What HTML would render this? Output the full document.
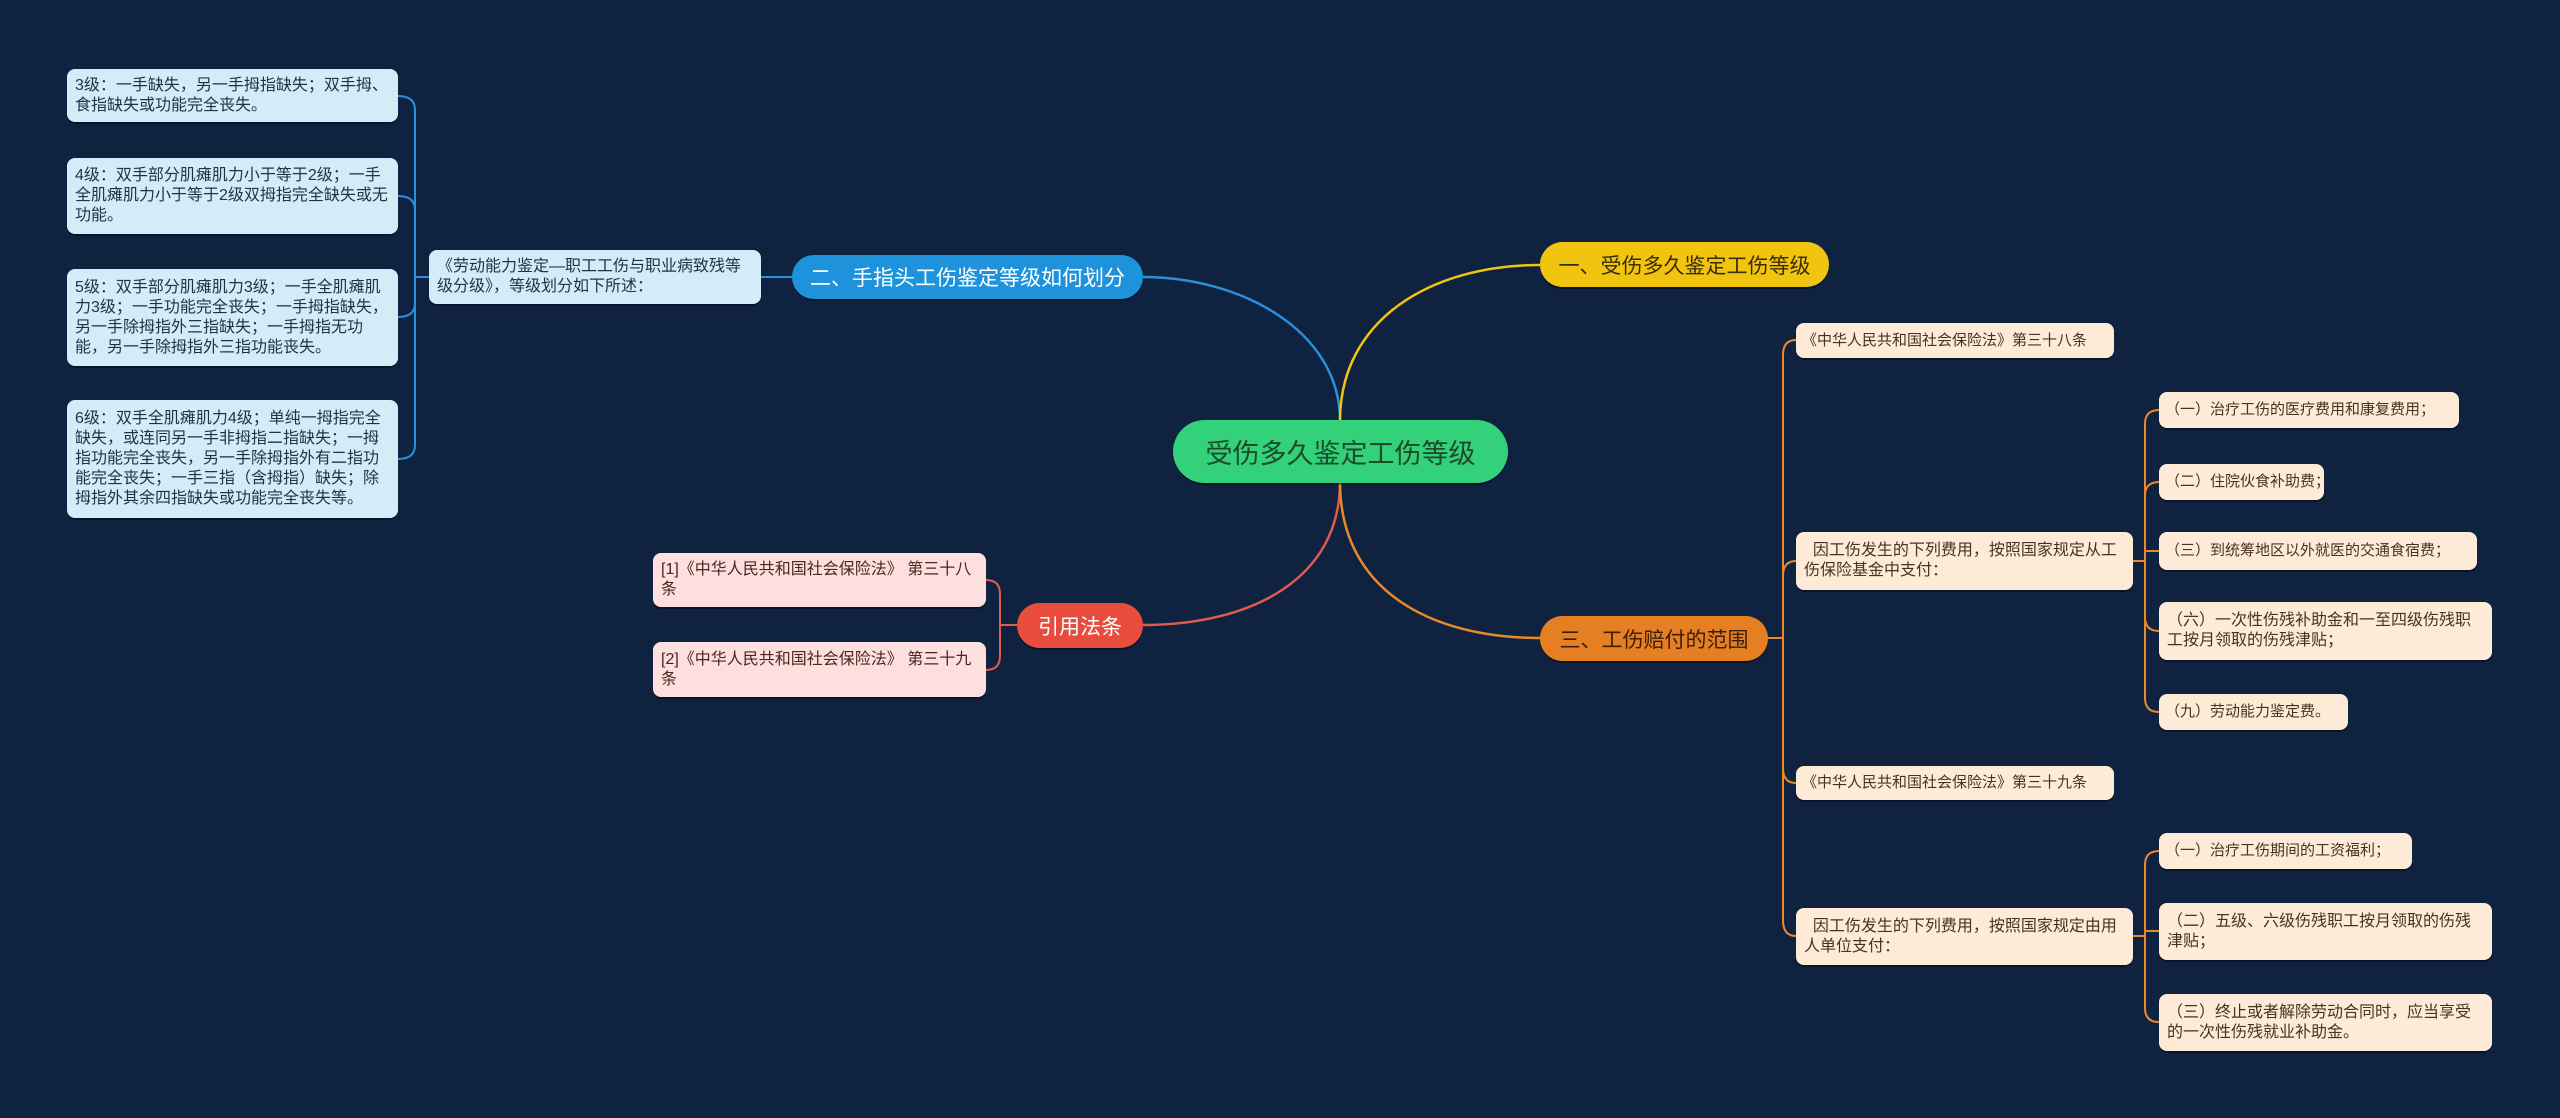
<!DOCTYPE html>
<html><head><meta charset="utf-8"><style>
html,body{margin:0;padding:0}
body{width:2560px;height:1118px;background:#0f2341;position:relative;overflow:hidden;font-family:"Liberation Sans","Noto Sans CJK SC",sans-serif}
.n{position:absolute;box-sizing:border-box;border-radius:8px;font-size:16px;line-height:20px;padding:4px 8px;display:flex;align-items:center;box-shadow:0 2px 0 rgba(0,0,0,0.35)}
.s{white-space:nowrap;font-size:15px;padding:4px 6px}
.b{background:#d4ecf8;color:#1f3344}
.p{background:#fde0dd;color:#4a2622}
.c{background:#fdebd7;color:#4a3222}
.m{position:absolute;box-sizing:border-box;border-radius:24px;display:flex;align-items:center;justify-content:center;font-size:21px;white-space:nowrap;box-shadow:0 2px 0 rgba(0,0,0,0.35)}
svg{position:absolute;left:0;top:0}
</style></head><body>
<svg width="2560" height="1118" fill="none" stroke-width="2.5">
<path d="M1340 421 C1340 330 1240 277 1143 277" stroke="#2a8fdc"/>
<path d="M1340 421 C1340 320 1430 265 1540 265" stroke="#f1c40f"/>
<path d="M1340 482 C1340 580 1250 625 1143 625" stroke="#e05a50"/>
<path d="M1340 482 C1340 590 1430 638 1540 638" stroke="#e8892a"/>
<g stroke="#2a8fdc" stroke-width="2">
<path d="M792 277 H761"/>
<path d="M429 277 H415"/>
<path d="M398 96 Q415 96 415 110 V445 Q415 459 398 459"/>
<path d="M398 196 Q415 196 415 210"/>
<path d="M398 317 Q415 317 415 303"/>
</g>
<g stroke="#e05a50" stroke-width="2">
<path d="M1017 625 H1000"/>
<path d="M986 580 Q1000 580 1000 594 V656 Q1000 670 986 670"/>
</g>
<g stroke="#e8892a" stroke-width="2">
<path d="M1768 638 H1783"/>
<path d="M1796 340 Q1783 340 1783 355 V920 Q1783 936 1796 936"/>
<path d="M1796 561 Q1783 561 1783 576"/>
<path d="M1796 783 Q1783 783 1783 768"/>
<path d="M2133 561 H2145"/>
<path d="M2159 410 Q2145 410 2145 424 V698 Q2145 712 2159 712"/>
<path d="M2159 482 Q2145 482 2145 496"/>
<path d="M2159 551 H2145"/>
<path d="M2159 631 Q2145 631 2145 617"/>
<path d="M2133 936 H2145"/>
<path d="M2159 851 Q2145 851 2145 865 V1008 Q2145 1022 2159 1022"/>
<path d="M2159 931 H2145"/>
</g>
</svg>

<div class="m" style="left:1173px;top:420px;width:335px;height:63px;border-radius:32px;background:#33d17a;color:#1d4a2a;font-size:27px">受伤多久鉴定工伤等级</div>
<div class="m" style="left:1540px;top:242px;width:289px;height:45px;background:#f1c40f;color:#3a2e05">一、受伤多久鉴定工伤等级</div>
<div class="m" style="left:1540px;top:616px;width:228px;height:45px;background:#e67e22;color:#3a2008">三、工伤赔付的范围</div>
<div class="m" style="left:792px;top:255px;width:351px;height:44px;background:#1e93dc;color:#fff">二、手指头工伤鉴定等级如何划分</div>
<div class="m" style="left:1017px;top:603px;width:126px;height:45px;background:#e74c3c;color:#fff">引用法条</div>

<div class="n b" style="left:429px;top:250px;width:332px;height:54px">《劳动能力鉴定—职工工伤与职业病致残等级分级》，等级划分如下所述：</div>
<div class="n b" style="left:67px;top:69px;width:331px;height:53px">3级：一手缺失，另一手拇指缺失；双手拇、食指缺失或功能完全丧失。</div>
<div class="n b" style="left:67px;top:158px;width:331px;height:76px">4级：双手部分肌瘫肌力小于等于2级；一手全肌瘫肌力小于等于2级双拇指完全缺失或无功能。</div>
<div class="n b" style="left:67px;top:269px;width:331px;height:97px">5级：双手部分肌瘫肌力3级；一手全肌瘫肌力3级；一手功能完全丧失；一手拇指缺失，另一手除拇指外三指缺失；一手拇指无功能，另一手除拇指外三指功能丧失。</div>
<div class="n b" style="left:67px;top:400px;width:331px;height:118px">6级：双手全肌瘫肌力4级；单纯一拇指完全缺失，或连同另一手非拇指二指缺失；一拇指功能完全丧失，另一手除拇指外有二指功能完全丧失；一手三指（含拇指）缺失；除拇指外其余四指缺失或功能完全丧失等。</div>

<div class="n p" style="left:653px;top:553px;width:333px;height:54px">[1]《中华人民共和国社会保险法》 第三十八条</div>
<div class="n p" style="left:653px;top:642px;width:333px;height:55px">[2]《中华人民共和国社会保险法》 第三十九条</div>

<div class="n c s" style="left:1796px;top:323px;width:318px;height:35px">《中华人民共和国社会保险法》第三十八条</div>
<div class="n c" style="left:1796px;top:532px;width:337px;height:58px">&nbsp;&nbsp;因工伤发生的下列费用，按照国家规定从工伤保险基金中支付：</div>
<div class="n c s" style="left:1796px;top:766px;width:318px;height:34px">《中华人民共和国社会保险法》第三十九条</div>
<div class="n c" style="left:1796px;top:908px;width:337px;height:57px">&nbsp;&nbsp;因工伤发生的下列费用，按照国家规定由用人单位支付：</div>

<div class="n c s" style="left:2159px;top:392px;width:300px;height:36px">（一）治疗工伤的医疗费用和康复费用；</div>
<div class="n c s" style="left:2159px;top:464px;width:165px;height:36px">（二）住院伙食补助费；</div>
<div class="n c s" style="left:2159px;top:532px;width:318px;height:38px">（三）到统筹地区以外就医的交通食宿费；</div>
<div class="n c" style="left:2159px;top:602px;width:333px;height:58px">（六）一次性伤残补助金和一至四级伤残职工按月领取的伤残津贴；</div>
<div class="n c s" style="left:2159px;top:694px;width:189px;height:36px">（九）劳动能力鉴定费。</div>
<div class="n c s" style="left:2159px;top:833px;width:253px;height:36px">（一）治疗工伤期间的工资福利；</div>
<div class="n c" style="left:2159px;top:903px;width:333px;height:57px">（二）五级、六级伤残职工按月领取的伤残津贴；</div>
<div class="n c" style="left:2159px;top:994px;width:333px;height:57px">（三）终止或者解除劳动合同时，应当享受的一次性伤残就业补助金。</div>
</body></html>
